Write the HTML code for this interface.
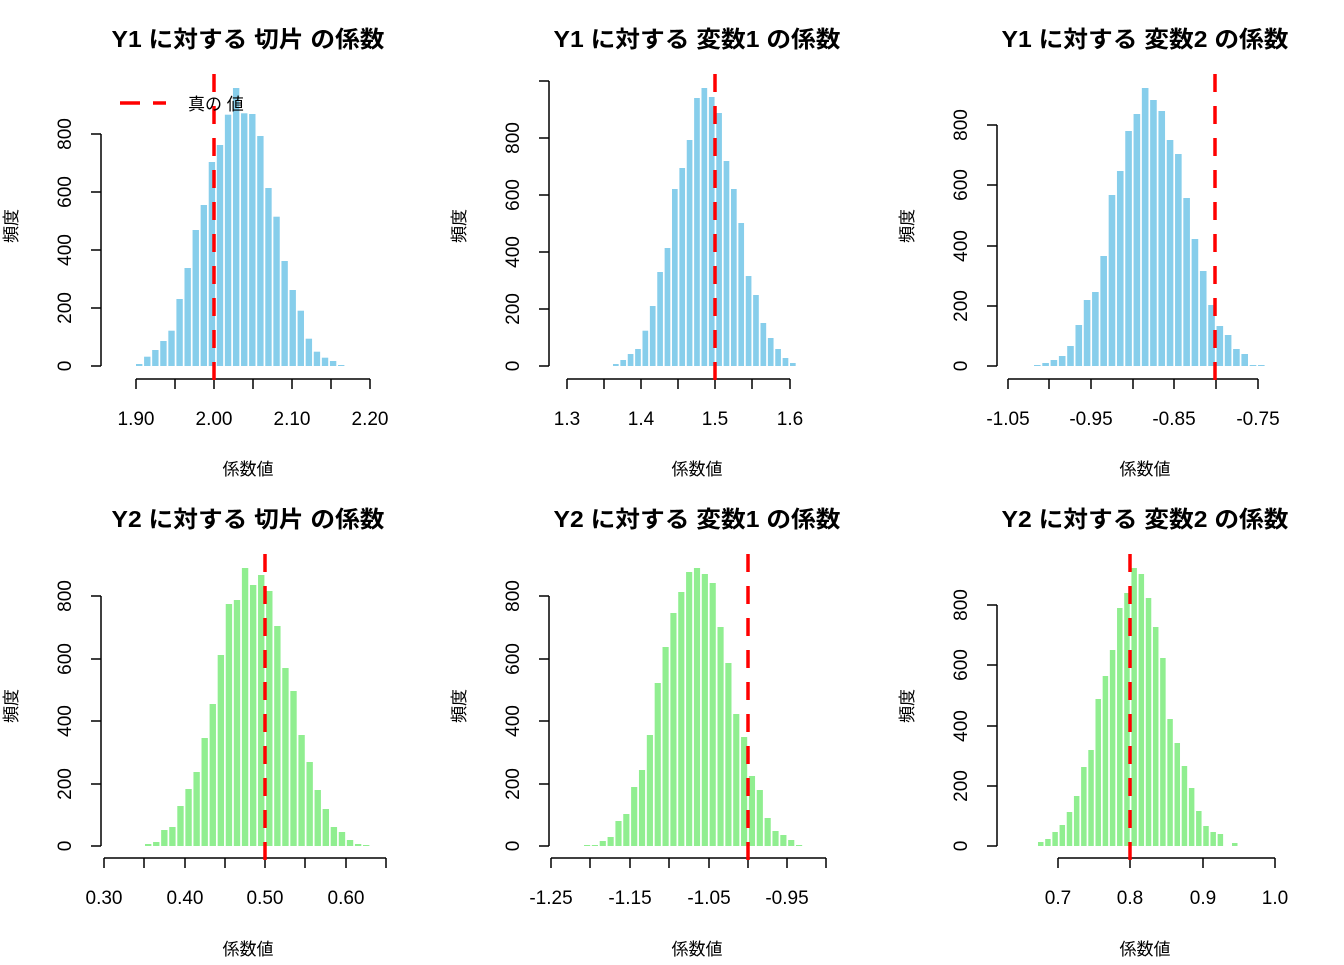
<!DOCTYPE html>
<html><head><meta charset="utf-8"><style>
body{margin:0;background:#fff}
svg text{font-family:"Liberation Sans","Noto Sans CJK JP",sans-serif}
</style></head><body>
<svg id="s" width="1344" height="960" xmlns="http://www.w3.org/2000/svg"></svg>
<script>
const P=[
{oy:80,base:366,x0:136,last:338,col:"#87CEEB",tops:[852,830,810,783,752,657,564,450,375,246,195,104,24,100,102,168,324,410,543,630,692,776,815,833,843,855],
 ax:101,yt:[[0,366],[200,308],[400,250],[600,192],[800,134]],ytop:134,xy:379,xt:[136,175,214,253,292,331,370],xl:[["1.90",136],["2.00",214],["2.10",292],["2.20",370]],red:214,cx:248,title:"Y1 に対する 切片 の係数",y0:0,tl:273},
{oy:80,base:366,x0:613,last:790,col:"#87CEEB",tops:[852,840,822,807,752,678,576,504,327,264,180,54,24,51,99,243,327,429,588,645,729,774,807,834,849],
 ax:549,yt:[[0,366],[200,309],[400,252],[600,195],[800,138],[null,81]],ytop:81,xy:379,xt:[567,604,641,678,715,752,790],xl:[["1.3",567],["1.4",641],["1.5",715],["1.6",790]],red:715,cx:697,title:"Y1 に対する 変数1 の係数",y0:0,tl:287},
{oy:80,base:366,x0:1034,last:1258,col:"#87CEEB",tops:[855,849,840,828,798,735,660,636,528,345,273,153,102,24,60,93,180,222,354,477,573,675,738,765,807,822,855,855],
 ax:997,yt:[[0,366],[200,306],[400,246],[600,185],[800,125]],ytop:125,xy:379,xt:[1008,1049,1091,1133,1174,1216,1258],xl:[["-1.05",1008],["-0.95",1091],["-0.85",1174],["-0.75",1258]],red:1215,cx:1145,title:"Y1 に対する 変数2 の係数",y0:0,tl:287},
{oy:560,base:846,x0:145,last:363,col:"#90EE90",tops:[852,846,810,801,738,687,636,534,432,285,132,120,24,75,45,93,198,324,393,525,606,690,747,801,816,840,852,855],
 ax:101,yt:[[0,846],[200,784],[400,721],[600,659],[800,596]],ytop:596,xy:858,xt:[104,144,185,225,265,305,346,386],xl:[["0.30",104],["0.40",185],["0.50",265],["0.60",346]],red:265,cx:248,title:"Y2 に対する 切片 の係数",y0:480,tl:273},
{oy:560,base:846,x0:584,last:796,col:"#90EE90",tops:[855,855,843,831,783,762,681,630,525,369,261,159,96,36,24,42,69,201,309,462,531,648,690,774,813,825,840,855],
 ax:549,yt:[[0,846],[200,784],[400,721],[600,659],[800,596]],ytop:596,xy:858,xt:[551,590,630,669,709,748,787,826],xl:[["-1.25",551],["-1.15",630],["-1.05",709],["-0.95",787]],red:748,cx:697,title:"Y2 に対する 変数1 の係数",y0:480,tl:287},
{oy:560,base:846,x0:1038,last:1232,col:"#90EE90",tops:[846,837,816,795,756,708,621,570,417,348,270,144,99,24,42,114,201,294,477,549,618,684,753,798,816,822,858,849],
 ax:997,yt:[[0,846],[200,786],[400,726],[600,665],[800,605]],ytop:605,xy:858,xt:[1058,1130,1203,1275],xl:[["0.7",1058],["0.8",1130],["0.9",1203],["1.0",1275]],red:1130,cx:1145,title:"Y2 に対する 変数2 の係数",y0:480,tl:287}
];
let h="";
for(const p of P){
 const n=p.tops.length,pitch=(p.last-p.x0)/(n-1),w=pitch-1.7;
 p.tops.forEach((z,i)=>{const t=p.oy+z/3;if(p.base-t>0.5)h+=`<rect x="${(p.x0+i*pitch).toFixed(2)}" y="${t.toFixed(1)}" width="${w.toFixed(2)}" height="${(p.base-t).toFixed(1)}" fill="${p.col}"/>`;});
 h+=`<line x1="${p.ax}" y1="${p.ytop}" x2="${p.ax}" y2="${p.base}" stroke="#000" stroke-width="1.5"/>`;
 for(const [v,y] of p.yt){h+=`<line x1="${p.ax-10}" y1="${y}" x2="${p.ax}" y2="${y}" stroke="#000" stroke-width="1.5"/>`;
  if(v!==null)h+=`<text x="${p.ax-30}" y="${y}" font-size="19" text-anchor="middle" transform="rotate(-90 ${p.ax-30} ${y})">${v}</text>`;}
 const xs=p.xt;h+=`<line x1="${xs[0]}" y1="${p.xy}" x2="${xs[xs.length-1]}" y2="${p.xy}" stroke="#000" stroke-width="1.5"/>`;
 for(const x of xs)h+=`<line x1="${x}" y1="${p.xy}" x2="${x}" y2="${p.xy+10}" stroke="#000" stroke-width="1.5"/>`;
 for(const [l,x] of p.xl)h+=`<text x="${x}" y="${p.xy+46}" font-size="19" text-anchor="middle">${l}</text>`;
 h+=`<text x="${p.cx}" y="${p.y0+47}" font-size="23" font-weight="bold" text-anchor="middle" textLength="${p.tl}" lengthAdjust="spacingAndGlyphs">${p.title}</text>`;
 h+=`<text x="${p.cx}" y="${p.y0+475}" font-size="17" text-anchor="middle">係数値</text>`;
 const lx=p.ax-84,ly=p.y0+226;
 h+=`<text x="${lx}" y="${ly}" font-size="17" text-anchor="middle" transform="rotate(-90 ${lx} ${ly})">頻度</text>`;
 h+=`<line x1="${p.red}" y1="${p.y0+74}" x2="${p.red}" y2="${p.y0+382}" stroke="#f00" stroke-width="3.5" stroke-dasharray="18 14"/>`;
}
h+=`<line x1="120" y1="103" x2="140" y2="103" stroke="#f00" stroke-width="3.5"/><line x1="153" y1="103" x2="166" y2="103" stroke="#f00" stroke-width="3.5"/>`;
h+=`<text x="188" y="110" font-size="17">真の 値</text>`;
document.getElementById("s").innerHTML=h;
</script>
</body></html>
